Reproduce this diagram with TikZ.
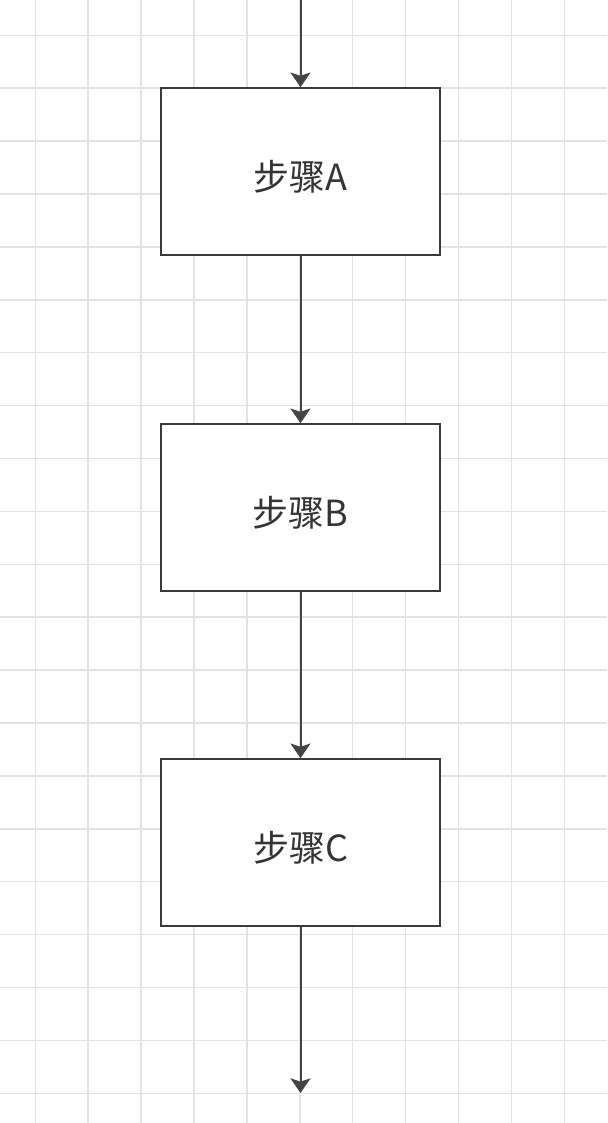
\documentclass[tikz,border=0pt]{standalone}
\usepackage{fontspec}
\usepackage{tikz}
\usetikzlibrary{positioning,arrows.meta}
\newfontfamily\cjk{Noto Sans CJK SC}
\definecolor{gridcol}{HTML}{E3E3E3}
\definecolor{boxline}{HTML}{3A3A3A}
\definecolor{flowline}{HTML}{444444}
\newcommand{\steplabel}[1]{\raisebox{-4pt}[\height][\depth]{#1}}
\tikzset{
  gridline/.style  = {draw=gridcol, line width=1.1pt},
  stepbox/.style   = {draw=boxline, fill=white, line width=1.5pt,
                      minimum width=209pt, minimum height=125pt,
                      font=\cjk\fontsize{27}{32}\selectfont, text=boxline!90!black},
  flow/.style      = {draw=flowline, line width=1.5pt,
                      -{Stealth[length=11pt, width=15pt, inset=2.5pt]}},
}

\begin{document}
\begin{tikzpicture}[x=0.75pt, y=-0.75pt]

    % ---------- page and grid --------------------------------------------
    \useasboundingbox[fill=white] (0,0) rectangle (607,1123);
    \foreach \gk in {0,...,10}
      {\draw[gridline] ({35.3+52.9*\gk},0) -- ({35.3+52.9*\gk},1123);}
    \foreach \gk in {0,...,20}
      {\draw[gridline] (0,{35.3+52.9*\gk}) -- (607,{35.3+52.9*\gk});}

    % ---------- steps ------------------------------------------------------
    \node[stepbox] (stepa) at (300.5,171.5) {\steplabel{步骤A}};
    \node[stepbox] (stepb) at (300.5,507.5) {\steplabel{步骤B}};
    \node[stepbox] (stepc) at (300.5,842.5) {\steplabel{步骤C}};

    % ---------- free ends --------------------------------------------------
    \coordinate (flowin)  at (300.5,0);
    \coordinate (flowout) at (300.5,1093);

    % ---------- connectors -------------------------------------------------
    \draw[flow] (flowin) -- (stepa);
    \draw[flow] (stepa) -- (stepb);
    \draw[flow] (stepb) -- (stepc);
    \draw[flow] (stepc) -- (flowout);

  \end{tikzpicture}
\end{document}
